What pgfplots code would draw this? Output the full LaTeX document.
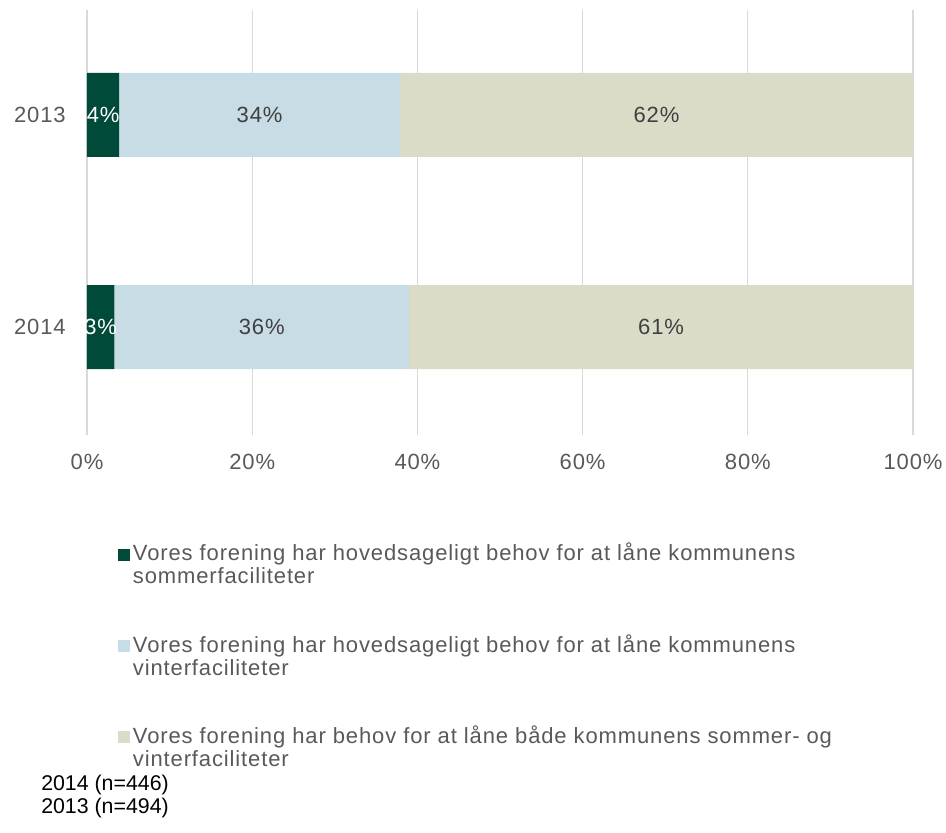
\documentclass[border=0pt]{standalone}
\usepackage{pgfplots}
\usepackage{pgfplotstable}
\pgfplotsset{compat=1.18}
\usepackage{fontspec}
\setmainfont[LetterSpace=4]{Liberation Sans}
\newfontfamily\notefont{Liberation Sans}

\definecolor{sommer}{HTML}{004A3A}
\definecolor{vinter}{HTML}{C7DCE4}
\definecolor{begge}{HTML}{DADCC7}
\definecolor{txtgray}{HTML}{595959}
\definecolor{lblgray}{HTML}{404040}
\definecolor{gridgray}{HTML}{D9D9D9}

\newcommand{\chartfont}{\fontsize{16.5}{17.25}\selectfont}

% year: 0 = 2014, 1 = 2013
\pgfplotstableread{
year a b c
0 3.3 35.7 61.0
1 3.9 34.0 62.1
}\shares

\begin{document}
\begin{tikzpicture}
\path[use as bounding box] (0pt,0pt) rectangle (709.5pt,624pt);
\begin{axis}[
  at={(65.25pt,297.75pt)}, anchor=south west,
  scale only axis,
  width=619.5pt, height=318.75pt,
  xbar stacked, bar width=63pt,
  xmin=0, xmax=100,
  ymin=-0.509, ymax=1.495,
  axis line style={draw=none},
  major tick length=0pt,
  xmajorgrids, grid style={gridgray, line width=1pt},
  xtick={0,20,40,60,80,100},
  xticklabels={0\%,20\%,40\%,60\%,80\%,100\%},
  ytick={0,1}, yticklabels={2014,2013},
  tick label style={font=\chartfont, text=txtgray, inner sep=0pt},
  xticklabel style={anchor=center, yshift=-20.25pt},
  yticklabel style={anchor=east, xshift=-15.75pt},
  point meta=explicit,
  nodes near coords={\pgfmathprintnumber[fixed,precision=0,assume math mode=true]{\pgfplotspointmeta}\%},
  every node near coord/.append style={font=\chartfont, text=lblgray,
    anchor=center},
  legend image code/.code={\fill[#1] (0pt,17.25pt) rectangle (9pt,26.25pt);},
  legend cell align=left,
  legend style={at={(axis description cs:0.0375,-0.247)}, anchor=north west,
    draw=none, fill=none, inner sep=0pt, row sep=32.5pt, column sep=0pt,
    font=\chartfont, text=txtgray,
    cells={anchor=base west, align=left, inner sep=0pt}},
]
\addplot[fill=sommer, draw=none,
  every node near coord/.append style={text=white}]
  table[x=a, y=year, meta=a]{\shares};
\addlegendentry{Vores forening har hovedsageligt behov for at låne kommunens\\sommerfaciliteter}
\addplot[fill=vinter, draw=none]
  table[x=b, y=year, meta=b]{\shares};
\addlegendentry{Vores forening har hovedsageligt behov for at låne kommunens\\vinterfaciliteter}
\addplot[fill=begge, draw=none]
  table[x=c, y=year, meta=c]{\shares};
\addlegendentry{Vores forening har behov for at låne både kommunens sommer- og\\vinterfaciliteter}
\end{axis}
\node[anchor=north west, align=left, inner sep=0pt,
  font=\notefont\fontsize{16}{17.25}\selectfont]
  at (30.75pt,43pt) {2014 (n=446)\\2013 (n=494)};
\end{tikzpicture}
\end{document}
